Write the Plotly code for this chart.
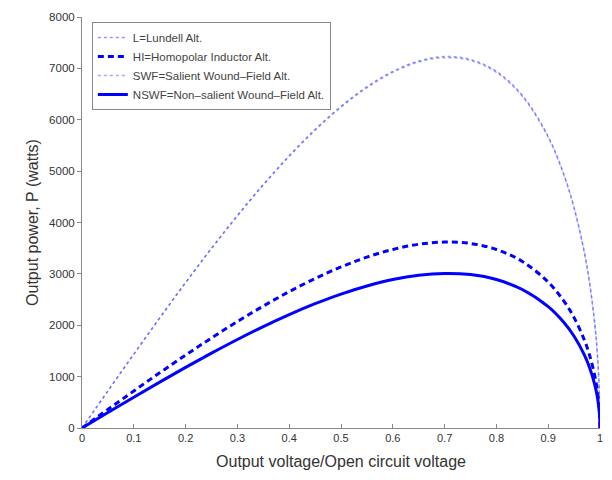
import plotly.graph_objects as go

x_vals = [0, 0.05, 0.1, 0.15, 0.2, 0.25, 0.3, 0.35, 0.4, 0.45, 0.5, 0.55, 0.6, 0.65,
          0.7, 0.75, 0.8, 0.85, 0.9, 0.93, 0.95, 0.97, 0.98, 0.99, 0.995, 0.999, 1.0]

lundell = [0, 722, 1439, 2144, 2834, 3500, 4138, 4741, 5301, 5811, 6261, 6642, 6941, 7143,
           7229, 7173, 6941, 6475, 5673, 4943, 4289, 3410, 2820, 2020, 1437, 646, 0]
homopolar = [0, 362, 720, 1074, 1419, 1753, 2072, 2374, 2654, 2909, 3135, 3326, 3475, 3576,
             3619, 3592, 3475, 3242, 2840, 2475, 2148, 1707, 1412, 1011, 719, 323, 0]
salient = [0, 720, 1435, 2138, 2826, 3490, 4126, 4728, 5286, 5795, 6243, 6623, 6921, 7123,
           7208, 7153, 6921, 6457, 5657, 4929, 4277, 3400, 2812, 2014, 1433, 644, 0]
nonsalient = [0, 301, 599, 893, 1180, 1457, 1723, 1974, 2207, 2419, 2607, 2765, 2890, 2974,
              3009, 2986, 2890, 2696, 2362, 2058, 1786, 1420, 1174, 841, 598, 269, 0]

names = ["L=Lundell Alt.", "HI=Homopolar Inductor Alt.",
         "SWF=Salient Wound\u2013Field Alt.", "NSWF=Non\u2013salient Wound\u2013Field Alt."]

x_ticks = [0, 0.1, 0.2, 0.3, 0.4, 0.5, 0.6, 0.7, 0.8, 0.9, 1]
x_tick_text = ["0", "0.1", "0.2", "0.3", "0.4", "0.5", "0.6", "0.7", "0.8", "0.9", "1"]
y_ticks = [0, 1000, 2000, 3000, 4000, 5000, 6000, 7000, 8000]

fig = go.Figure()
fig.add_trace(go.Scatter(x=x_vals, y=lundell, name=names[0], mode="lines",
                         line=dict(color="rgba(60,60,255,0.55)", width=1.5, dash="dot", shape="spline")))
fig.add_trace(go.Scatter(x=x_vals, y=homopolar, name=names[1], mode="lines",
                         line=dict(color="#0000ff", width=3, dash="6px,4px", shape="spline")))
fig.add_trace(go.Scatter(x=x_vals, y=salient, name=names[2], mode="lines",
                         line=dict(color="rgba(60,60,255,0.45)", width=1.5, dash="dot", shape="spline")))
fig.add_trace(go.Scatter(x=x_vals, y=nonsalient, name=names[3], mode="lines",
                         line=dict(color="#0000ff", width=3, shape="spline")))

fig.update_layout(
    width=612, height=480,
    margin=dict(l=74, r=20, t=9, b=60),
    paper_bgcolor="white", plot_bgcolor="white",
    font=dict(family="Liberation Sans, Arial, sans-serif", color="#333333", size=11),
    showlegend=True,
    legend=dict(x=0.019, y=0.988, xanchor="left", yanchor="top",
                bgcolor="white", bordercolor="#888888", borderwidth=1,
                font=dict(size=11.5, color="#444444"), tracegroupgap=0,
                itemwidth=30),
)
fig.update_xaxes(range=[0, 1], tickvals=x_ticks, ticktext=x_tick_text, automargin=False,
                 showgrid=False, zeroline=False, showline=True, linecolor="#888888",
                 ticks="inside", ticklen=4, tickcolor="#888888",
                 tickfont=dict(size=11),
                 title=dict(text="Output voltage/Open circuit voltage",
                            font=dict(size=16, color="#333333"), standoff=12))
fig.update_yaxes(range=[0, 8000], tickvals=y_ticks, automargin=False,
                 showgrid=False, zeroline=False, showline=True, linecolor="#888888",
                 ticks="outside", ticklen=4, tickcolor="#888888",
                 tickfont=dict(size=11.5),
                 title=dict(text="Output power, P (watts)",
                            font=dict(size=16, color="#333333"), standoff=6))

fig.write_html("out.html")
